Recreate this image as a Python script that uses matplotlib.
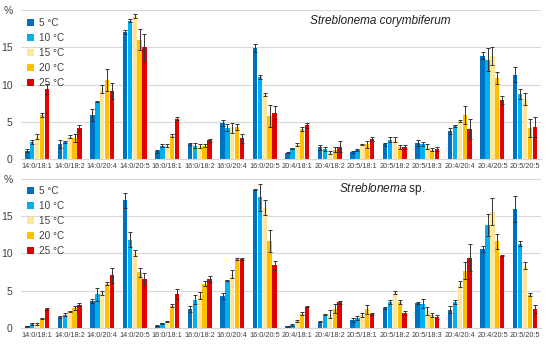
import numpy as np
import matplotlib
matplotlib.use("Agg")
import matplotlib.pyplot as plt

plt.rcParams["font.family"] = ["Liberation Sans", "DejaVu Sans"]
plt.rcParams["mathtext.fontset"] = "custom"
plt.rcParams["mathtext.it"] = "Liberation Sans:italic"
plt.rcParams["mathtext.rm"] = "Liberation Sans"

categories = ["14:0/18:1", "14:0/18:2", "14:0/20:4", "14:0/20:5", "16:0/18:1",
              "16:0/18:2", "16:0/20:4", "16:0/20:5", "20:4/18:1", "20:4/18:2",
              "20:5/18:1", "20:5/18:2", "20:5/18:3", "20:4/20:4", "20:4/20:5",
              "20:5/20:5"]
temps = ["5 °C", "10 °C", "15 °C", "20 °C", "25 °C"]
colors = ["#0070C0", "#00B0F0", "#FFE699", "#FFC000", "#E00000"]

# Streblonema corymbiferum, one list per temperature
cory_vals = [
    [1.1, 2.0, 5.9, 17.05, 1.0, 2.0, 4.8, 14.9, 0.85, 1.55, 0.9, 2.0, 2.2, 3.8, 13.9, 11.3],
    [2.3, 2.3, 7.7, 18.6, 1.8, 1.8, 4.2, 11.0, 1.4, 1.35, 1.2, 2.6, 2.0, 4.45, 13.35, 8.7],
    [3.0, 3.0, 9.4, 19.2, 1.8, 1.7, 4.15, 8.6, 1.9, 0.85, 1.95, 2.6, 1.65, 5.1, 13.8, 8.0],
    [5.9, 2.8, 10.6, 16.0, 3.1, 1.8, 4.3, 5.8, 4.0, 1.25, 1.95, 1.6, 1.25, 5.9, 10.85, 4.15],
    [9.4, 4.1, 9.1, 15.0, 5.4, 2.5, 2.8, 6.2, 4.5, 1.65, 2.7, 1.6, 1.35, 4.0, 7.9, 4.3],
]
cory_err = [
    [0.2, 0.6, 0.8, 0.3, 0.2, 0.1, 0.4, 0.5, 0.1, 0.3, 0.15, 0.2, 0.4, 0.4, 0.5, 1.0],
    [0.3, 0.15, 0.1, 0.2, 0.2, 0.3, 0.5, 0.3, 0.1, 0.3, 0.15, 0.3, 0.3, 0.1, 1.5, 0.7],
    [0.3, 0.2, 0.6, 0.3, 0.2, 0.3, 0.7, 0.2, 0.2, 0.2, 0.1, 0.3, 0.3, 0.15, 1.2, 0.8],
    [0.3, 0.5, 1.5, 1.4, 0.2, 0.15, 0.4, 1.5, 0.3, 0.3, 0.5, 0.3, 0.2, 1.2, 0.8, 1.2],
    [0.7, 0.4, 1.1, 1.8, 0.2, 0.2, 0.6, 0.9, 0.3, 0.7, 0.3, 0.3, 0.3, 1.3, 0.5, 1.4],
]

# Streblonema sp.
sp_vals = [
    [0.2, 1.5, 3.6, 17.15, 0.3, 2.6, 4.25, 18.55, 0.2, 0.85, 1.05, 2.7, 3.35, 2.45, 10.65, 15.95],
    [0.55, 1.75, 4.5, 11.85, 0.6, 3.8, 6.35, 17.55, 0.4, 1.8, 1.3, 3.45, 3.25, 3.5, 13.85, 11.3],
    [0.5, 2.25, 4.7, 10.05, 0.9, 4.35, 7.25, 16.1, 0.9, 1.9, 1.75, 4.7, 2.3, 5.95, 15.6, 8.35],
    [1.25, 2.65, 5.95, 7.45, 3.0, 5.95, 9.25, 11.7, 1.9, 2.6, 2.5, 3.5, 1.75, 7.7, 11.6, 4.45],
    [2.55, 3.1, 7.05, 6.6, 4.55, 6.6, 9.25, 8.4, 2.85, 3.45, 1.9, 2.0, 1.45, 9.45, 9.7, 2.55],
]
sp_err = [
    [0.1, 0.1, 0.3, 1.0, 0.1, 0.4, 0.4, 0.1, 0.05, 0.1, 0.3, 0.1, 0.1, 0.5, 0.4, 1.7],
    [0.15, 0.2, 0.9, 1.0, 0.1, 0.6, 0.1, 1.8, 0.1, 0.1, 0.3, 0.3, 0.6, 0.3, 1.5, 0.3],
    [0.15, 0.05, 0.3, 0.4, 0.05, 0.5, 0.5, 1.0, 0.1, 0.5, 0.3, 0.2, 0.5, 0.4, 1.8, 0.5],
    [0.1, 0.3, 0.25, 0.6, 0.2, 0.3, 0.1, 1.5, 0.2, 0.6, 0.6, 0.3, 0.3, 1.2, 1.0, 0.2],
    [0.1, 0.2, 1.0, 0.8, 0.7, 0.4, 0.1, 0.6, 0.1, 0.2, 0.1, 0.3, 0.3, 1.8, 0.1, 0.5],
]

txt = "#404040"
fig = plt.figure(figsize=(5.5, 3.5), dpi=100)
ax_top = fig.add_axes([0.038, 0.546, 0.946, 0.425])
ax_bot = fig.add_axes([0.038, 0.063, 0.946, 0.426])

x = np.arange(len(categories))
w = 0.15


def draw(ax, vals, errs):
    for i in range(len(temps)):
        pos = x + (i - 2) * w
        ax.bar(pos, vals[i], width=w * 0.9, color=colors[i], label=temps[i],
               yerr=errs[i], error_kw=dict(ecolor="#333333", elinewidth=0.7,
                                           capsize=1.2, capthick=0.7),
               zorder=2)
    ax.set_xlim(-0.5, len(categories) - 0.5)
    ax.set_ylim(0, 20)
    ax.set_yticks([0, 5, 10, 15, 20])
    ax.set_yticklabels(["0", "5", "10", "15", "%"])
    ax.set_xticks(x)
    ax.set_xticklabels(categories, fontsize=5.3, color=txt)
    ax.tick_params(axis="y", labelsize=7.5, colors=txt, length=0, pad=6)
    ax.tick_params(axis="x", length=0, pad=3)
    ax.grid(axis="y", color="#D9D9D9", linewidth=0.8, zorder=0)
    for s in ["top", "right", "left"]:
        ax.spines[s].set_visible(False)
    ax.spines["bottom"].set_color("#D9D9D9")
    leg = ax.legend(loc="upper left", bbox_to_anchor=(0.0, 0.99), frameon=False,
                    fontsize=7.2, handlelength=0.7, handleheight=0.7,
                    handletextpad=0.5, labelspacing=0.5, borderaxespad=0.2)
    for t in leg.get_texts():
        t.set_color(txt)


draw(ax_top, cory_vals, cory_err)
draw(ax_bot, sp_vals, sp_err)

ax_top.text(0.69, 0.93, "Streblonema corymbiferum", transform=ax_top.transAxes,
            ha="center", va="center", fontsize=8.5, style="italic", color="#202020")
ax_bot.text(0.695, 0.93, r"$\it{Streblonema}$ sp.", transform=ax_bot.transAxes,
            ha="center", va="center", fontsize=8.5, color="#202020")

fig.savefig("out.png", dpi=100)
